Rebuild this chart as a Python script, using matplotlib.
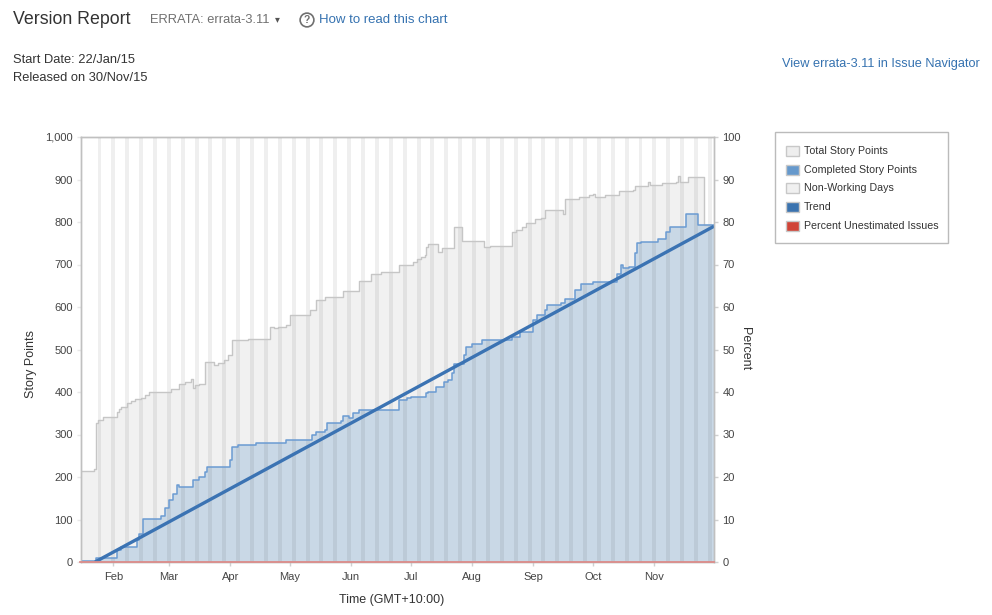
import matplotlib
matplotlib.use("Agg")
import matplotlib.pyplot as plt
import matplotlib.dates as mdates
from matplotlib.patches import Rectangle
from matplotlib.ticker import FuncFormatter
import pandas as pd

plt.rcParams['font.family'] = ['Liberation Sans', 'DejaVu Sans']

# ---------------- data ----------------
total_dates = ["2015-01-15", "2015-01-22", "2015-01-23", "2015-01-24", "2015-01-27",
               "2015-02-03", "2015-02-04", "2015-02-05", "2015-02-08", "2015-02-10",
               "2015-02-12", "2015-02-15", "2015-02-17", "2015-02-19", "2015-03-02",
               "2015-03-06", "2015-03-09", "2015-03-12", "2015-03-13", "2015-03-14",
               "2015-03-16", "2015-03-19", "2015-03-24", "2015-03-26", "2015-03-29",
               "2015-03-31", "2015-04-02", "2015-04-10", "2015-04-21", "2015-04-23",
               "2015-04-25", "2015-04-29", "2015-05-01", "2015-05-11", "2015-05-14",
               "2015-05-19", "2015-05-28", "2015-06-05", "2015-06-11", "2015-06-16",
               "2015-06-25", "2015-07-02", "2015-07-04", "2015-07-06", "2015-07-08",
               "2015-07-09", "2015-07-10", "2015-07-15", "2015-07-17", "2015-07-23",
               "2015-07-27", "2015-08-07", "2015-08-10", "2015-08-21", "2015-08-23",
               "2015-08-26", "2015-08-28", "2015-09-02", "2015-09-05", "2015-09-07",
               "2015-09-16", "2015-09-17", "2015-09-24", "2015-09-29", "2015-10-01",
               "2015-10-02", "2015-10-07", "2015-10-14", "2015-10-21", "2015-10-22",
               "2015-10-29", "2015-10-30", "2015-11-05", "2015-11-12", "2015-11-13",
               "2015-11-14", "2015-11-18", "2015-11-26", "2015-12-01"]
total_points = [215, 220, 328, 335, 342,
                353, 359, 365, 373, 379,
                384, 387, 392, 401, 406,
                420, 424, 430, 410, 416,
                420, 471, 463, 469, 475,
                487, 522, 525, 552, 550,
                553, 557, 581, 594, 616,
                623, 638, 662, 678, 682,
                699, 707, 712, 717, 722,
                742, 748, 730, 740, 789,
                756, 742, 744, 777, 781,
                788, 797, 807, 809, 828,
                819, 854, 858, 864, 866,
                860, 864, 872, 876, 885,
                893, 887, 891, 895, 909,
                895, 905, 793, 793]

completed_dates = ["2015-01-15", "2015-01-23", "2015-02-03", "2015-02-05", "2015-02-13",
                   "2015-02-14", "2015-02-16", "2015-02-25", "2015-02-27", "2015-03-01",
                   "2015-03-03", "2015-03-05", "2015-03-06", "2015-03-13", "2015-03-16",
                   "2015-03-19", "2015-03-20", "2015-04-01", "2015-04-02", "2015-04-05",
                   "2015-04-14", "2015-04-29", "2015-05-12", "2015-05-14", "2015-05-19",
                   "2015-05-20", "2015-05-27", "2015-05-28", "2015-05-31", "2015-06-02",
                   "2015-06-05", "2015-06-25", "2015-06-29", "2015-07-01", "2015-07-09",
                   "2015-07-10", "2015-07-14", "2015-07-18", "2015-07-20", "2015-07-22",
                   "2015-07-23", "2015-07-28", "2015-07-29", "2015-08-01", "2015-08-06",
                   "2015-08-21", "2015-08-25", "2015-09-01", "2015-09-03", "2015-09-07",
                   "2015-09-08", "2015-09-15", "2015-09-17", "2015-09-22", "2015-09-25",
                   "2015-10-01", "2015-10-13", "2015-10-15", "2015-10-16", "2015-10-19",
                   "2015-10-22", "2015-10-23", "2015-10-25", "2015-11-03", "2015-11-07",
                   "2015-11-09", "2015-11-17", "2015-11-23", "2015-12-01"]
completed_points = [3, 10, 28, 35, 51,
                    67, 102, 108, 126, 145,
                    161, 181, 177, 192, 200,
                    212, 224, 240, 271, 275,
                    279, 287, 298, 306, 310,
                    326, 332, 343, 340, 350,
                    357, 381, 385, 389, 397,
                    401, 412, 424, 428, 444,
                    467, 487, 506, 513, 522,
                    530, 542, 569, 581, 593,
                    605, 609, 620, 640, 654,
                    660, 678, 699, 692, 695,
                    726, 750, 754, 759, 777,
                    789, 819, 793, 793]

trend_dates = ["2015-01-22 18:00", "2015-12-01 02:00"]
trend_points = [0, 790]

unestimated_dates = ["2015-01-15", "2015-12-01"]
unestimated_percent = [0, 0]

nonworking_first_saturday = "2015-01-24"
nonworking_last_saturday = "2015-11-28"

y_ticks_left = [0, 100, 200, 300, 400, 500, 600, 700, 800, 900, 1000]
y_ticks_right = [0, 10, 20, 30, 40, 50, 60, 70, 80, 90, 100]
month_ticks = [2, 3, 4, 5, 6, 7, 8, 9, 10, 11]

# ---------------- figure ----------------
W, H = 992, 615
fig = plt.figure(figsize=(W / 100, H / 100), dpi=100)
fig.patch.set_facecolor('white')

def fx(px):
    return px / W

def fy(py):
    return 1 - py / H

ax_l, ax_r, ax_t, ax_b = 81, 714, 137, 562
ax = fig.add_axes([fx(ax_l), fy(ax_b), (ax_r - ax_l) / W, (ax_b - ax_t) / H])

td = pd.to_datetime(total_dates)
cd = pd.to_datetime(completed_dates)

# total story points
ax.fill_between(td, 0, total_points, step='post', color='#f1f1f1', lw=0, zorder=1)
ax.step(td, total_points, where='post', color='#c6c6c6', lw=1.0, zorder=4)

# completed story points
ax.fill_between(cd, 0, completed_points, step='post', color='#c9d8e6', lw=0, zorder=2)
ax.step(cd, completed_points, where='post', color='#6b9bd2', lw=1.1, zorder=5)

# non-working days
sats = pd.date_range(nonworking_first_saturday, nonworking_last_saturday, freq='7D')
for s in sats:
    ax.axvspan(s, s + pd.Timedelta(days=2), color='black', alpha=0.062, lw=0, zorder=3)

# trend
ax.plot(pd.to_datetime(trend_dates), trend_points, color='#3b73b3', lw=2.4, zorder=6,
        solid_capstyle='butt')

# percent unestimated (right axis scale)
ax2 = ax.twinx()
ax2.plot(pd.to_datetime(unestimated_dates), unestimated_percent, color='#dc8c8a', lw=1.3,
         zorder=7, clip_on=False)
ax2.set_ylim(0, 100)
ax2.set_yticks(y_ticks_right)

ax.set_xlim(pd.Timestamp("2015-01-15 16:00"), pd.Timestamp("2015-12-01 02:00"))
ax.set_ylim(0, 1000)
ax.set_yticks(y_ticks_left)
ax.yaxis.set_major_formatter(FuncFormatter(lambda v, p: f"{int(v):,}"))
ax.xaxis.set_major_locator(mdates.MonthLocator(bymonth=month_ticks))
ax.xaxis.set_major_formatter(mdates.DateFormatter('%b'))

spine_col = '#c0c0c0'
for a in (ax, ax2):
    for s in a.spines.values():
        s.set_color(spine_col)
        s.set_linewidth(1.0)
    a.tick_params(colors='#d0d0d0', labelcolor='#444444', labelsize=8, length=3, width=1)
ax.tick_params(axis='x', length=3, pad=4)
ax.tick_params(axis='y', length=3, pad=3, colors='#e8e8e8', labelcolor='#444444')
ax2.tick_params(axis='y', pad=3)
ax2.set_zorder(ax.get_zorder() + 1)
ax2.patch.set_visible(False)

# axis labels
fig.text(fx(31), fy(364), "Story Points", rotation=90, ha='center', va='center',
         fontsize=9, color='#333333')
fig.text(fx(745), fy(349), "Percent", rotation=270, ha='center', va='center',
         fontsize=9, color='#333333')
fig.text(fx(392), fy(600), "Time (GMT+10:00)", ha='center', va='center',
         fontsize=9, color='#333333')

# header texts
fig.text(fx(13), fy(20), "Version Report", ha='left', va='center', fontsize=12.8,
         color='#333333')
fig.text(fx(150), fy(20), "ERRATA: errata-3.11", ha='left', va='center', fontsize=9.3,
         color='#707070')
fig.text(fx(277), fy(19), "\u25be", ha='center', va='center', fontsize=7,
         color='#555555', family=['DejaVu Sans'])
fig.text(fx(307), fy(20), "?", ha='center', va='center', fontsize=7.5, color='#707070',
         fontweight='bold',
         bbox=dict(boxstyle='circle,pad=0.18', fc='none', ec='#707070', lw=1.2))
fig.text(fx(319), fy(20), "How to read this chart", ha='left', va='center', fontsize=9.5,
         color='#3572b0')
fig.text(fx(13), fy(60), "Start Date: 22/Jan/15", ha='left', va='center', fontsize=9.3,
         color='#333333')
fig.text(fx(13), fy(78), "Released on 30/Nov/15", ha='left', va='center', fontsize=9.3,
         color='#333333')
fig.text(fx(980), fy(64), "View errata-3.11 in Issue Navigator", ha='right', va='center',
         fontsize=9.2, color='#3572b0')

# legend
leg_labels = ["Total Story Points", "Completed Story Points", "Non-Working Days",
              "Trend", "Percent Unestimated Issues"]
leg_colors = ['#eeeeee', '#6699cc', '#f0f0f0', '#3b73af', '#d04437']
box = Rectangle((fx(775), fy(243)), (948 - 775) / W, (243 - 132) / H,
                transform=fig.transFigure, fc='white', ec='#bbbbbb', lw=1.0)
fig.add_artist(box)
for i, (lab, col) in enumerate(zip(leg_labels, leg_colors)):
    yc = 151 + i * 18.7
    r = Rectangle((fx(786), fy(yc + 5)), 13 / W, 10 / H, transform=fig.transFigure,
                  fc=col, ec='#c8c8c8', lw=1.0)
    fig.add_artist(r)
    fig.text(fx(804), fy(yc), lab, ha='left', va='center', fontsize=7.7, color='#333333')

fig.savefig("out.png", dpi=100)
